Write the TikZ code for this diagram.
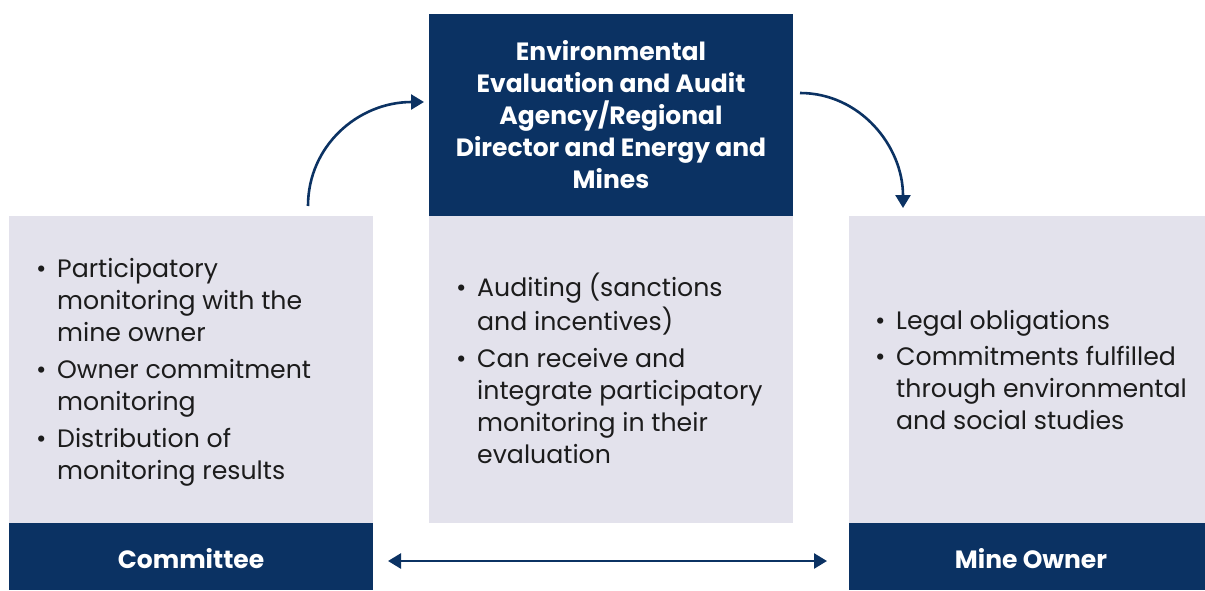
\documentclass[tikz,border=0pt]{standalone}
\usepackage{fontspec}
\setmainfont{Poppins}
\usetikzlibrary{arrows.meta}
\definecolor{navy}{HTML}{0B3263}
\definecolor{pale}{HTML}{E3E2EC}
\definecolor{ink}{HTML}{1C1C1C}
\newcommand\bitem[1]{\noindent\makebox[21pt][l]{•}\parbox[t]{320pt}{\raggedright\strut #1\strut}\par}
\newcommand\blist[1]{\parbox{345pt}{\fontsize{25.2}{32}\selectfont\raggedright\parskip=0pt #1}}
\tikzset{
  panel/.style={fill=pale, draw=none},
  band/.style={fill=navy, draw=none},
  bodytext/.style={anchor=west, inner sep=0pt, text=ink},
  headtext/.style={text=white, align=center, inner sep=0pt, font=\fontsize{25}{32}\selectfont\bfseries},
  conn/.style={draw=navy, line width=2.6pt, -{Triangle[length=13pt,width=15pt]}},
  conn2/.style={draw=navy, line width=2.6pt, {Triangle[length=13pt,width=15pt]}-{Triangle[length=13pt,width=15pt]}},
}
\begin{document}
\begin{tikzpicture}[x=1pt,y=-1pt]
\useasboundingbox (0,0) rectangle (1205,590);
\fill[white] (0,0) rectangle (1205,590);
% left
\fill[panel] (9,216) rectangle (373,523);
\fill[band] (9,523) rectangle (373,590);
% middle
\fill[band] (429,14) rectangle (793,216);
\fill[panel] (429,216) rectangle (793,523);
% right
\fill[panel] (849,216) rectangle (1205,523);
\fill[band] (849,523) rectangle (1205,590);

\node[headtext] (agency) at (611,115) {Environmental\\Evaluation and Audit\\Agency/Regional\\Director and Energy and\\Mines};
\node[headtext] (committee) at (191,559) {Committee};
\node[headtext] (owner) at (1031,559) {Mine Owner};

\node[bodytext] (ltext) at (36,372) {\blist{\bitem{Participatory\\monitoring with the\\mine owner}\vspace{4pt}%
\bitem{Owner commitment\\monitoring}\vspace{4pt}%
\bitem{Distribution of\\monitoring results}}};
\node[bodytext] (mtext) at (456,373) {\blist{\bitem{Auditing (sanctions\\and incentives)}\vspace{4pt}%
\bitem{Can receive and\\integrate participatory\\monitoring in their\\evaluation}}};
\node[bodytext] (rtext) at (875,373) {\blist{\bitem{Legal obligations}\vspace{4pt}%
\bitem{Commitments fulfilled\\through environmental\\and social studies}}};

\coordinate (a1s) at (308,206);
\coordinate (a1e) at (424,102);
\coordinate (a2s) at (800,93);
\coordinate (a2e) at (903,208);
\coordinate (b1) at (388,561);
\coordinate (b2) at (827,561);
\draw[conn] (a1s) .. controls (308,146) and (358,102) .. (a1e);
\draw[conn] (a2s) .. controls (860,93) and (903,146) .. (a2e);
\draw[conn2] (b1) -- (b2);
\end{tikzpicture}
\end{document}
